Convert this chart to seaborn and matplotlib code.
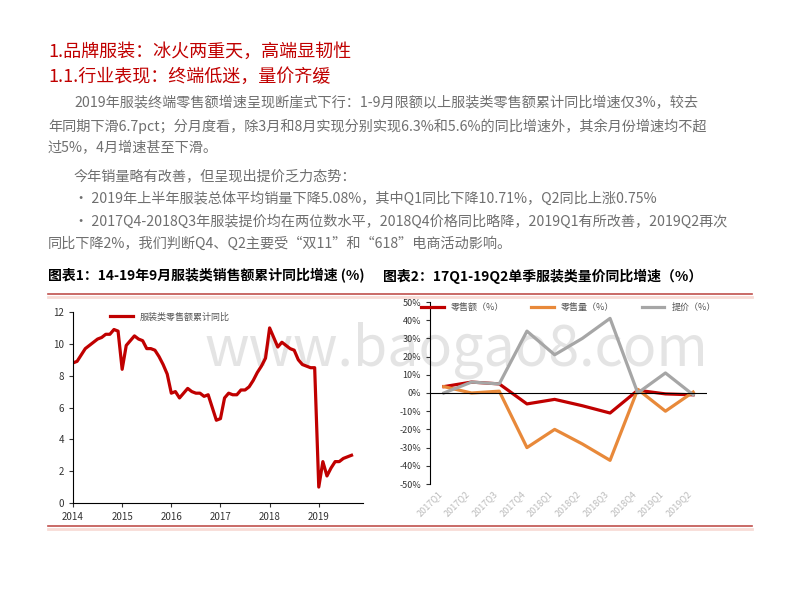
import matplotlib
matplotlib.use("Agg")
import matplotlib.pyplot as plt
import seaborn as sns
import numpy as np
import pandas as pd

plt.rcParams["font.family"] = ["Noto Sans CJK SC", "DejaVu Sans"]

# ---- data ----
sales_2014 = [8.8, 8.9, 9.3, 9.7, 9.9, 10.1, 10.3, 10.4, 10.6, 10.6, 10.9, 10.8]
sales_2015 = [8.4, 9.9, 10.2, 10.5, 10.3, 10.2, 9.7, 9.7, 9.6, 9.2, 8.7, 8.1]
sales_2016 = [6.9, 7.0, 6.6, 6.9, 7.2, 7.0, 6.9, 6.9, 6.7, 6.8, 6.0, 5.2]
sales_2017 = [5.3, 6.6, 6.9, 6.8, 6.8, 7.1, 7.1, 7.3, 7.7, 8.2, 8.6, 9.1]
sales_2018 = [11.0, 10.4, 9.8, 10.1, 9.9, 9.7, 9.6, 9.0, 8.7, 8.6, 8.5, 8.5]
sales_2019 = [1.0, 2.6, 1.7, 2.2, 2.6, 2.6, 2.8, 2.9, 3.0]
left_years = [2014, 2015, 2016, 2017, 2018, 2019]

quarters = ["2017Q1", "2017Q2", "2017Q3", "2017Q4", "2018Q1", "2018Q2",
            "2018Q3", "2018Q4", "2019Q1", "2019Q2"]
retail_value = [3.5, 6, 5, -6, -3.5, -7, -11, 1.5, -0.5, -1]
retail_volume = [3.5, 0, 1, -30, -20, -28, -37, 2, -10, 0.5]
price_up = [0, 6, 5, 34, 21, 30, 41, 0, 11, -1]

RED = "#C00000"
ORANGE = "#E8893A"
GRAY = "#A6A6A6"

fig = plt.figure(figsize=(8, 6), dpi=100)
fig.patch.set_facecolor("white")

def T(x, y, s, **kw):
    return fig.text(x / 800, 1 - y / 600, s, **kw)

# watermark (behind everything)
T(205, 350, "www.baogao8.com", color="#E4E4E4", fontsize=40, va="center", zorder=-5)

T(48, 52, "1.品牌服装：冰火两重天，高端显韧性", color=RED, fontsize=13, va="center")
T(48, 77, "1.1.行业表现：终端低迷，量价齐缓", color=RED, fontsize=13, va="center")
body = dict(color="#6f6f6f", fontsize=10.2, va="center")
T(74, 103, "2019年服装终端零售额增速呈现断崖式下行：1-9月限额以上服装类零售额累计同比增速仅3%，较去", **body)
T(48, 126, "年同期下滑6.7pct；分月度看，除3月和8月实现分别实现6.3%和5.6%的同比增速外，其余月份增速均不超", **body)
T(48, 148, "过5%，4月增速甚至下滑。", **body)
T(74, 176, "今年销量略有改善，但呈现出提价乏力态势：", **body)
T(74, 199, "• 2019年上半年服装总体平均销量下降5.08%，其中Q1同比下降10.71%，Q2同比上涨0.75%", **body)
T(74, 222, "• 2017Q4-2018Q3年服装提价均在两位数水平，2018Q4价格同比略降，2019Q1有所改善，2019Q2再次", **body)
T(48, 244, "同比下降2%，我们判断Q4、Q2主要受“双11”和“618”电商活动影响。", **body)

T(48, 276, "图表1：14-19年9月服装类销售额累计同比增速 (%)", color="black", fontsize=10, fontweight="bold", va="center")
T(383, 276, "图表2：17Q1-19Q2单季服装类量价同比增速（%）", color="black", fontsize=10, fontweight="bold", va="center")
for y in (294, 526):
    fig.add_artist(plt.Line2D([48 / 800, 752 / 800], [1 - y / 600] * 2, color="#C0504D", lw=1.2))
    fig.add_artist(plt.Line2D([48 / 800, 752 / 800], [1 - (y + 3) / 600] * 2, color="#F8DCD6", lw=2))

# ---- left chart ----
vals = sales_2014 + sales_2015 + sales_2016 + sales_2017 + sales_2018 + sales_2019
dfl = pd.DataFrame({"t": [2014 + i / 12 for i in range(len(vals))], "v": vals})
axl = fig.add_axes([73 / 800, 1 - 503 / 600, 290 / 800, 191 / 600])
axl.patch.set_alpha(0)
sns.lineplot(data=dfl, x="t", y="v", ax=axl, color=RED, lw=2.3, label="服装类零售额累计同比")
axl.set_xlim(2014, 2019.9)
axl.set_ylim(0, 12)
axl.set_xticks(left_years)
axl.set_xticklabels([str(y) for y in left_years])
axl.set_yticks(range(0, 13, 2))
axl.set_xlabel(""); axl.set_ylabel("")
for s in ("top", "right"):
    axl.spines[s].set_visible(False)
for s in ("left", "bottom"):
    axl.spines[s].set_color("black"); axl.spines[s].set_linewidth(0.8)
axl.tick_params(labelsize=7, length=3, colors="#333333")
axl.legend(loc="upper left", bbox_to_anchor=(0.1, 1.04), frameon=False, fontsize=6.5,
           handlelength=2.5, labelcolor="#555555")

# ---- right chart ----
dfr = pd.DataFrame({"q": quarters * 3,
                    "v": retail_value + retail_volume + price_up,
                    "s": ["零售额（%）"] * 10 + ["零售量（%）"] * 10 + ["提价（%）"] * 10})
axr = fig.add_axes([430 / 800, 1 - 484 / 600, 277 / 800, 182 / 600])
axr.patch.set_alpha(0)
sns.lineplot(data=dfr, x="q", y="v", hue="s", ax=axr, sort=False,
             palette=[RED, ORANGE, GRAY], lw=2.3)
axr.set_ylim(-50, 50)
axr.set_xlim(-0.5, 9.5)
axr.set_yticks(range(-50, 51, 10))
axr.set_yticklabels([f"{v}%" for v in range(-50, 51, 10)])
axr.set_xticks(range(len(quarters)))
axr.set_xticklabels(quarters, rotation=45, ha="right", color="#BBBBBB")
axr.set_xlabel(""); axr.set_ylabel("")
for s in ("top", "right", "bottom"):
    axr.spines[s].set_visible(False)
axr.spines["left"].set_color("black"); axr.spines["left"].set_linewidth(0.8)
axr.axhline(0, color="black", lw=0.8)
axr.tick_params(axis="x", length=0, labelsize=6.5)
axr.tick_params(axis="y", labelsize=6.5, length=3, colors="#333333")
axr.legend(loc="upper center", bbox_to_anchor=(0.5, 1.04), ncol=3, frameon=False,
           fontsize=6.5, handlelength=2.5, labelcolor="#555555", columnspacing=3)

fig.savefig("out.png", dpi=100, facecolor="white")
